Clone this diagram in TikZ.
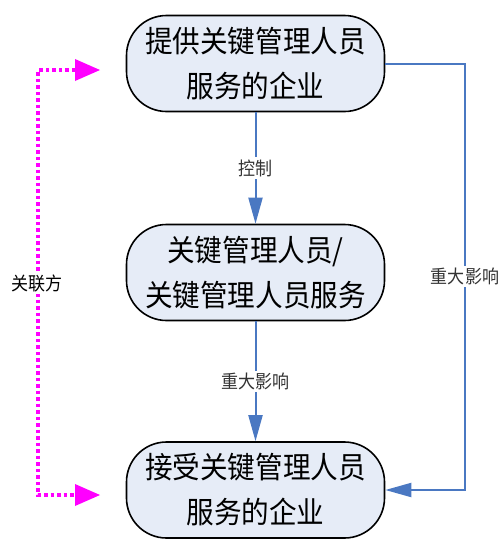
\documentclass[tikz,border=0pt]{standalone}
\usepackage{fontspec}
\newfontfamily\cjk[FakeStretch=0.92]{Noto Sans CJK SC}
\usetikzlibrary{arrows.meta}
\definecolor{boxfill}{HTML}{E6ECF7}
\definecolor{linkblue}{HTML}{4A78C2}
\definecolor{relmag}{HTML}{FF00FF}
\definecolor{lblgray}{HTML}{333333}
\begin{document}
\begin{tikzpicture}[x=1pt,y=-1pt,
  box/.style={draw=black, line width=1.6pt, fill=boxfill, rounded corners=40pt,
    minimum width=258pt, minimum height=96pt, align=center, inner sep=0pt,
    font=\cjk\fontsize{30}{45}\selectfont},
  flow/.style={draw=linkblue, line width=2pt, -{Triangle[length=26pt,width=14pt]}},
  rel/.style={draw=relmag, line width=3.2pt, dash pattern=on 3.5pt off 3pt,
    {Triangle[length=25pt,width=22pt,line width=0pt]}-{Triangle[length=25pt,width=22pt,line width=0pt]}},
  lbl/.style={fill=white, inner sep=2pt, text=lblgray, font=\cjk\fontsize{18.5}{20}\selectfont}]
\useasboundingbox (0,0) rectangle (502,539);
\node[box] (top) at (255.5,63.5) {提供关键管理人员\\服务的企业};
\node[box] (mid) at (255.5,272.5) {关键管理人员/\\关键管理人员服务};
\node[box] (bot) at (255.5,490) {接受关键管理人员\\服务的企业};
\draw[flow] (top) -- node[lbl] {控制} (mid);
\draw[flow] (mid) -- node[lbl] {重大影响} (bot);
\draw[flow] (top.east) -- (465,63.5) |- node[lbl, pos=0.25] {重大影响} (bot.east);
\coordinate (mt) at (100,70);
\coordinate (mb) at (100,495);
\draw[rel] (mt) -- (38,70) -- (38,495) -- (mb);
\node[lbl, text=black] (rl) at (37,283) {关联方};
\end{tikzpicture}
\end{document}
